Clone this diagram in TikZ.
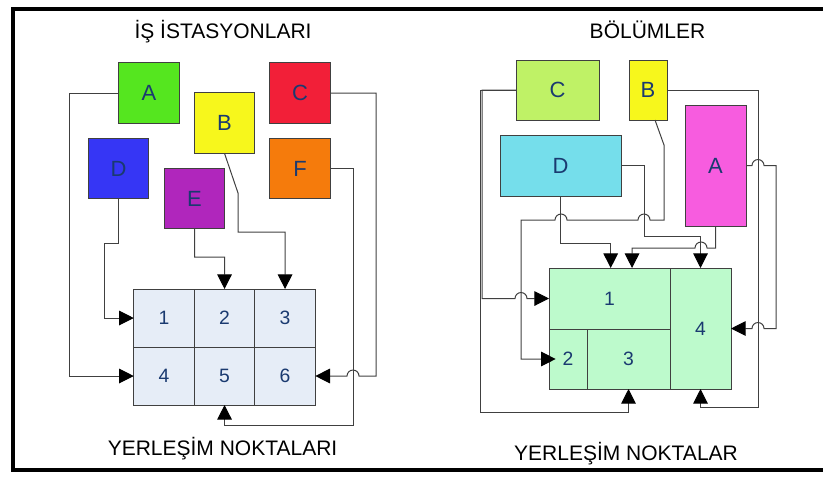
\documentclass[tikz,border=0pt]{standalone}
\usepackage{fontspec}
\setmainfont{Liberation Sans}
\usepackage{xcolor}
\usepackage{tikz}
\usetikzlibrary{arrows.meta,positioning}

\definecolor{labelblue}{HTML}{1A3A70}
\definecolor{gridblue}{HTML}{E6EDF7}
\definecolor{gridgreen}{HTML}{BDFACC}
\definecolor{stA}{HTML}{55E61F}
\definecolor{stB}{HTML}{F7F71C}
\definecolor{stC}{HTML}{F21F38}
\definecolor{stD}{HTML}{3636F5}
\definecolor{stE}{HTML}{B026BC}
\definecolor{stF}{HTML}{F57B0C}
\definecolor{dpA}{HTML}{F75CDF}
\definecolor{dpC}{HTML}{BFF266}
\definecolor{dpD}{HTML}{75DEEB}

\begin{document}
\begin{tikzpicture}[
    x=0.75pt, y=-0.75pt,
    station/.style={draw=black!75, line width=0.75pt, inner sep=0pt, outer sep=0pt, minimum width=45.5pt, minimum height=45.5pt, font=\fontsize{16.5}{18}\selectfont, text=labelblue},
    cell/.style={draw=black!75, line width=0.75pt, fill=gridblue, inner sep=0pt, outer sep=0pt, minimum width=45.4pt, minimum height=43.5pt, font=\fontsize{14.5}{16}\selectfont, text=labelblue},
    region/.style={draw=black!75, line width=0.75pt, fill=gridgreen, inner sep=0pt, outer sep=0pt, font=\fontsize{14.5}{16}\selectfont, text=labelblue},
    heading/.style={anchor=base, font=\fontsize{15.75}{18}\selectfont},
    flow/.style={-{Triangle[length=11pt, width=11pt, black]}, draw=black!75, line width=0.75pt},
]
\useasboundingbox (0,0) rectangle (823,476);

% Frame
\draw[line width=3pt] (830,9) -| (13,469.5) -- (830,469.5);

% Work stations
\node[heading] (tstat) at (223,38) {İŞ İSTASYONLARI};
\node[station, fill=stA] (A) at (149,93) {A};
\node[station, fill=stB] (B) at (224.5,123) {B};
\node[station, fill=stC] (C) at (300,93) {C};
\node[station, fill=stD] (D) at (118.5,168.5) {D};
\node[station, fill=stE] (E) at (194.5,198.5) {E};
\node[station, fill=stF] (F) at (300,168.5) {F};

% Location grid
\node[cell] (c1) at (164,318) {1};
\node[cell, right=0pt of c1] (c2) {2};
\node[cell, right=0pt of c2] (c3) {3};
\node[cell, below=0pt of c1] (c4) {4};
\node[cell, right=0pt of c4] (c5) {5};
\node[cell, right=0pt of c5] (c6) {6};
\node[heading] (tloc) at (222.5,455) {YERLEŞİM NOKTALARI};

% Station arrows
\draw[flow] (A.west) -- ++(-49,0) |- (c4.west);
\draw[flow] (D.south) |- (104,243) |- (c1.west);
\draw[flow] (E.south) |- (224.5,257) -- (c2.north);
\draw[flow] (B.south) -- (238,193) |- (285,232) -- (c3.north);
\draw[flow] (C.east) -| (376,376) -- (359,376) arc[start angle=0, end angle=-180, radius=6] -- (c6.east);
\draw[flow] (F.east) -| (353,425) -| (c5.south);

% Departments
\node[heading] (tdep) at (647.5,38) {BÖLÜMLER};
\node[station, fill=dpC, minimum width=62.25pt, minimum height=45pt] (dC) at (557.5,90) {C};
\node[station, fill=stB, minimum width=28.5pt, minimum height=45pt] (dB) at (648,90) {B};
\node[station, fill=dpD, minimum width=90.75pt, minimum height=45.75pt] (dD) at (560.5,165.5) {D};
\node[station, fill=dpA, minimum width=45.75pt, minimum height=90.75pt] (dA) at (715.5,165.5) {A};

% Department layout
\node[region, minimum width=90.75pt, minimum height=45.75pt] (r1) at (609.5,298.5) {1};
\node[region, minimum width=28.5pt, minimum height=45pt, anchor=north west] (r2) at (r1.south west) {2};
\node[region, minimum width=62.25pt, minimum height=45pt, anchor=north west] (r3) at (r2.north east) {3};
\node[region, minimum width=45.75pt, minimum height=90.75pt, anchor=north west] (r4) at (r1.north east) {4};
\node[heading] (tlay) at (626,460) {YERLEŞİM NOKTALAR};

% Department arrows
\draw[flow] (dC.west) -| (482,298.5) -- (515,298.5) arc[start angle=180, end angle=360, radius=6] -- (r1.west);
\draw[flow] (dC.west) -| (480,412) -| (r3.south);
\draw[flow] ([xshift=5.25pt]dB.south) -- (664,145) -- (664,220) -- (650,220) arc[start angle=0, end angle=-180, radius=6] -- (567,220) arc[start angle=0, end angle=-180, radius=6] -- (521,220) |- ([xshift=5pt]r2.west);
\draw[flow] (dD.south) -- ++(0,47.5) -| ([xshift=0.9pt]r1.north);
\draw[flow] (dD.east) -| (644,236) -| (r4.north);
\draw[flow] (dA.south) |- (707,248) arc[start angle=0, end angle=-180, radius=6] -| ([xshift=16.9pt]r1.north);
\draw[flow] (dB.east) -| (758,407) -| (r4.south);
\draw[flow] (dA.east) -- (752,165.5) arc[start angle=180, end angle=360, radius=6] -- (776,165.5) |- (764,328.5) arc[start angle=0, end angle=-180, radius=6] -- (r4.east);

\end{tikzpicture}
\end{document}
